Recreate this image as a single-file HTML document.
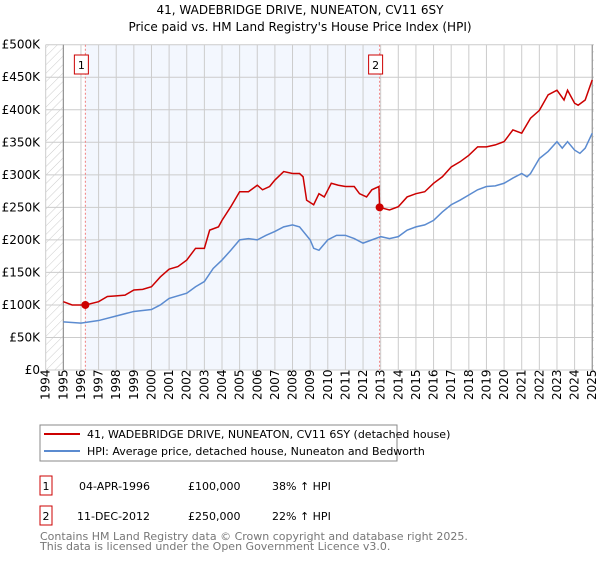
<!DOCTYPE html>
<html><head><meta charset="utf-8"><style>
body{margin:0;background:#fff;width:600px;height:560px;overflow:hidden;font-family:"DejaVu Sans","Liberation Sans",sans-serif}
svg text{font-family:"DejaVu Sans","Liberation Sans",sans-serif}
</style></head><body>
<svg id="c" width="600" height="560" xmlns="http://www.w3.org/2000/svg">
<defs><pattern id="h" width="6" height="6" patternUnits="userSpaceOnUse" patternTransform="rotate(45)"><line x1="0" y1="0" x2="0" y2="6" stroke="#ccc" stroke-width="1"/></pattern></defs>
<text x="300" y="14" text-anchor="middle" font-size="12">41, WADEBRIDGE DRIVE, NUNEATON, CV11 6SY</text>
<text x="300" y="31" text-anchor="middle" font-size="12">Price paid vs. HM Land Registry's House Price Index (HPI)</text>
<g id="plot"></g>
<rect x="40" y="425" width="357" height="36" fill="#fff" stroke="#888"/>
<line x1="44" y1="434" x2="80" y2="434" stroke="#cc0000" stroke-width="2"/>
<text x="87" y="438" font-size="11">41, WADEBRIDGE DRIVE, NUNEATON, CV11 6SY (detached house)</text>
<line x1="44" y1="451" x2="80" y2="451" stroke="#5b8bd0" stroke-width="2"/>
<text x="87" y="455" font-size="11">HPI: Average price, detached house, Nuneaton and Bedworth</text>
<g font-size="11">
<rect x="40" y="476" width="12" height="19" fill="#fff" stroke="#cc0000"/><text x="46" y="490" text-anchor="middle">1</text>
<text x="79" y="490">04-APR-1996</text>
<text x="188" y="490">£100,000</text>
<text x="272" y="490">38% ↑ HPI</text>
<rect x="40" y="506" width="12" height="19" fill="#fff" stroke="#cc0000"/><text x="46" y="520" text-anchor="middle">2</text>
<text x="77" y="520">11-DEC-2012</text>
<text x="188" y="520">£250,000</text>
<text x="272" y="520">22% ↑ HPI</text>
</g>
<text x="40" y="540" font-size="11" fill="#777">Contains HM Land Registry data © Crown copyright and database right 2025.</text>
<text x="40" y="550" font-size="11" fill="#777">This data is licensed under the Open Government Licence v3.0.</text>
</svg>
<script>
const years=[1994,1995,1996,1997,1998,1999,2000,2001,2002,2003,2004,2005,2006,2007,2008,2009,2010,2011,2012,2013,2014,2015,2016,2017,2018,2019,2020,2021,2022,2023,2024,2025];
const yTicks=[0,50,100,150,200,250,300,350,400,450,500];
const yTickLabels=["£0","£50K","£100K","£150K","£200K","£250K","£300K","£350K","£400K","£450K","£500K"];
const hpiT=[1995,1996,1997,1998,1999,2000,2000.5,2001,2002,2002.5,2003,2003.5,2004,2004.5,2005,2005.5,2006,2006.5,2007,2007.5,2008,2008.4,2009,2009.2,2009.5,2010,2010.5,2011,2011.5,2012,2012.5,2013,2013.5,2014,2014.5,2015,2015.5,2016,2016.5,2017,2017.5,2018,2018.5,2019,2019.5,2020,2020.5,2021,2021.3,2021.5,2022,2022.5,2023,2023.3,2023.6,2024,2024.3,2024.6,2025];
const hpiV=[74,72,76,83,90,93,100,110,118,128,136,156,169,184,200,202,200,207,213,220,223,220,200,187,184,200,207,207,202,195,200,205,202,205,215,220,223,230,243,254,261,269,277,282,283,287,295,302,297,302,325,336,351,341,351,338,333,341,364];
const priceT=[1995,1995.5,1996.25,1997,1997.5,1998,1998.5,1999,1999.5,2000,2000.5,2001,2001.5,2002,2002.5,2003,2003.3,2003.8,2004,2004.5,2005,2005.5,2006,2006.3,2006.7,2007,2007.5,2008,2008.4,2008.6,2008.8,2009.2,2009.5,2009.8,2010.2,2010.6,2011,2011.5,2011.8,2012.2,2012.5,2012.9,2012.94,2013.5,2014,2014.5,2015,2015.5,2016,2016.5,2017,2017.5,2018,2018.5,2019,2019.5,2020,2020.5,2021,2021.5,2022,2022.5,2023,2023.4,2023.6,2024,2024.2,2024.6,2025];
const priceV=[105,100,100,105,113,114,115,123,124,128,143,155,159,169,187,187,215,220,230,251,274,274,284,277,282,292,305,302,302,297,261,254,271,266,287,284,282,282,271,266,277,282,250,246,251,266,271,274,287,297,312,320,330,343,343,346,351,369,364,387,399,423,430,415,430,410,407,415,446];
const saleT=[1996.25,2012.94];
const saleV=[100,250];
const X=t=>45.7+(t-1994)*17.63;
const Y=v=>370-v*0.6506;
const g=document.getElementById('plot');
const NS='http://www.w3.org/2000/svg';
function mk(tag,at){const e=document.createElementNS(NS,tag);for(const k in at)e.setAttribute(k,at[k]);g.appendChild(e);return e;}
let e;
e=mk('rect',{x:X(1994),y:Y(500),width:X(2025.1)-X(1994),height:Y(0)-Y(500),fill:'#fff'});


e=mk('rect',{x:X(saleT[0]),y:Y(500),width:X(saleT[1])-X(saleT[0]),height:Y(0)-Y(500),fill:'#eef3fd',opacity:0.7});


e=mk('rect',{x:X(1994),y:Y(500),width:X(1995)-X(1994),height:Y(0)-Y(500),fill:'url(#h)'});


e=mk('rect',{x:X(2025),y:Y(500),width:X(2025.1)-X(2025),height:Y(0)-Y(500),fill:'url(#h)'});


yTicks.forEach((v,i)=>{
 e=mk('line',{x1:X(1994),x2:X(2025.1),y1:Y(v),y2:Y(v),stroke:'#ccc'});
 
 
 e=mk('text',{x:40,y:Y(v)+4,'text-anchor':'end','font-size':12});
 e.textContent=yTickLabels[i];
 
 
});
years.forEach(yr=>{
 e=mk('line',{x1:X(yr),x2:X(yr),y1:Y(500),y2:Y(0),stroke:'#ccc'});
 
 
 e=mk('text',{x:0,y:0,'font-size':12,transform:`translate(${X(yr)+4},400) rotate(-90)`});
 e.textContent=yr;
 
 
});
e=mk('line',{x1:X(1995),x2:X(1995),y1:Y(500),y2:Y(0),stroke:'#888'});


e=mk('line',{x1:X(2025),x2:X(2025),y1:Y(500),y2:Y(0),stroke:'#888'});


saleT.forEach((t,i)=>{
 e=mk('line',{x1:X(t),x2:X(t),y1:Y(500),y2:Y(0),stroke:'#f08080','stroke-dasharray':'2,2'});
 
 
 e=mk('rect',{x:X(t)-11,y:55,width:14,height:19,fill:'#fff',stroke:'#cc0000'});
 
 
 e=mk('text',{x:X(t)-4,y:69,'text-anchor':'middle','font-size':11});
 e.textContent=String(i+1);
 
 
});
e=mk('polyline',{points:hpiT.map((t,i)=>X(t)+','+Y(hpiV[i])).join(' '),fill:'none',stroke:'#5b8bd0','stroke-width':1.5});


e=mk('polyline',{points:priceT.map((t,i)=>X(t)+','+Y(priceV[i])).join(' '),fill:'none',stroke:'#cc0000','stroke-width':1.5});


saleT.forEach((t,i)=>{
 e=mk('circle',{cx:X(t),cy:Y(saleV[i]),r:4,fill:'#cc0000'});
 
 
});
</script>
</body></html>
